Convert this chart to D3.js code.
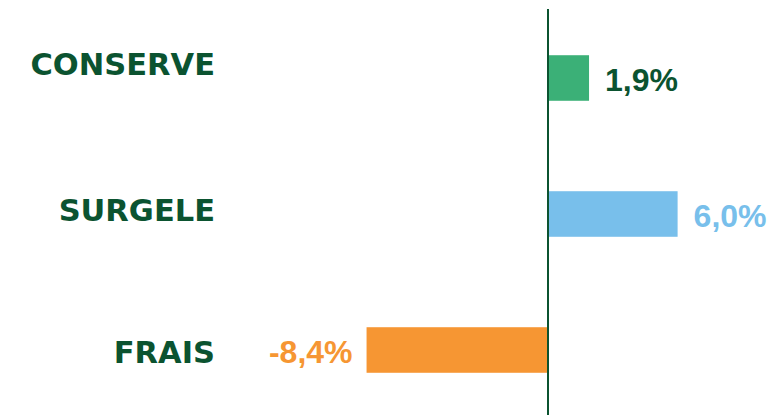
<!DOCTYPE html>
<html>
<head>
<meta charset="utf-8">
<script src="https://cdn.jsdelivr.net/npm/d3@7"></script>
<style>
  html, body { margin: 0; padding: 0; background: #ffffff; }
  svg { display: block; }
</style>
</head>
<body>
<svg id="chart" width="776" height="415"></svg>
<script>
// Change in volume by category (%)
const categories = ["CONSERVE", "SURGELE", "FRAIS"];
const values = [1.9, 6.0, -8.4];
const valueLabels = ["1,9%", "6,0%", "-8,4%"];

// Styling
const barColors = ["#3bb077", "#78bfeb", "#f69633"];
const labelColors = ["#0b5330", "#78bfeb", "#f69633"];
const darkGreen = "#0b5330";
const categoryDy = [-14, -4, 2]; // vertical nudge of category names

const width = 776, height = 415;
const svg = d3.select("#chart");

const x = d3.scaleLinear().domain([-10, 10]).range([332, 764]);
const y = d3.scaleBand()
  .domain(categories)
  .range([10, 418])
  .paddingInner(0.665)
  .paddingOuter(0.3325);

// Bars
svg.selectAll("rect.bar")
  .data(categories)
  .join("rect")
  .attr("class", "bar")
  .attr("x", (d, i) => x(Math.min(0, values[i])))
  .attr("width", (d, i) => Math.abs(x(values[i]) - x(0)))
  .attr("y", d => y(d))
  .attr("height", y.bandwidth())
  .attr("fill", (d, i) => barColors[i]);

// Zero axis
svg.append("line")
  .attr("x1", x(0)).attr("x2", x(0))
  .attr("y1", 9).attr("y2", height)
  .attr("stroke", darkGreen)
  .attr("stroke-width", 2);

// Value labels
svg.selectAll("text.value")
  .data(categories)
  .join("text")
  .attr("class", "value")
  .attr("x", (d, i) => values[i] >= 0 ? x(values[i]) + 16 : x(values[i]) - 14)
  .attr("y", d => y(d) + y.bandwidth() / 2 + 13)
  .attr("text-anchor", (d, i) => values[i] >= 0 ? "start" : "end")
  .attr("font-family", "'Liberation Sans', Arial, sans-serif")
  .attr("font-weight", "bold")
  .attr("font-size", "32px")
  .attr("fill", (d, i) => labelColors[i])
  .text((d, i) => valueLabels[i]);

// Category names
svg.selectAll("text.cat")
  .data(categories)
  .join("text")
  .attr("class", "cat")
  .attr("x", 215)
  .attr("y", (d, i) => y(d) + y.bandwidth() / 2 + 11 + categoryDy[i])
  .attr("text-anchor", "end")
  .attr("font-family", "'DejaVu Sans', sans-serif")
  .attr("font-weight", "bold")
  .attr("font-size", "30.5px")
  .attr("fill", darkGreen)
  .text(d => d);
</script>
</body>
</html>
